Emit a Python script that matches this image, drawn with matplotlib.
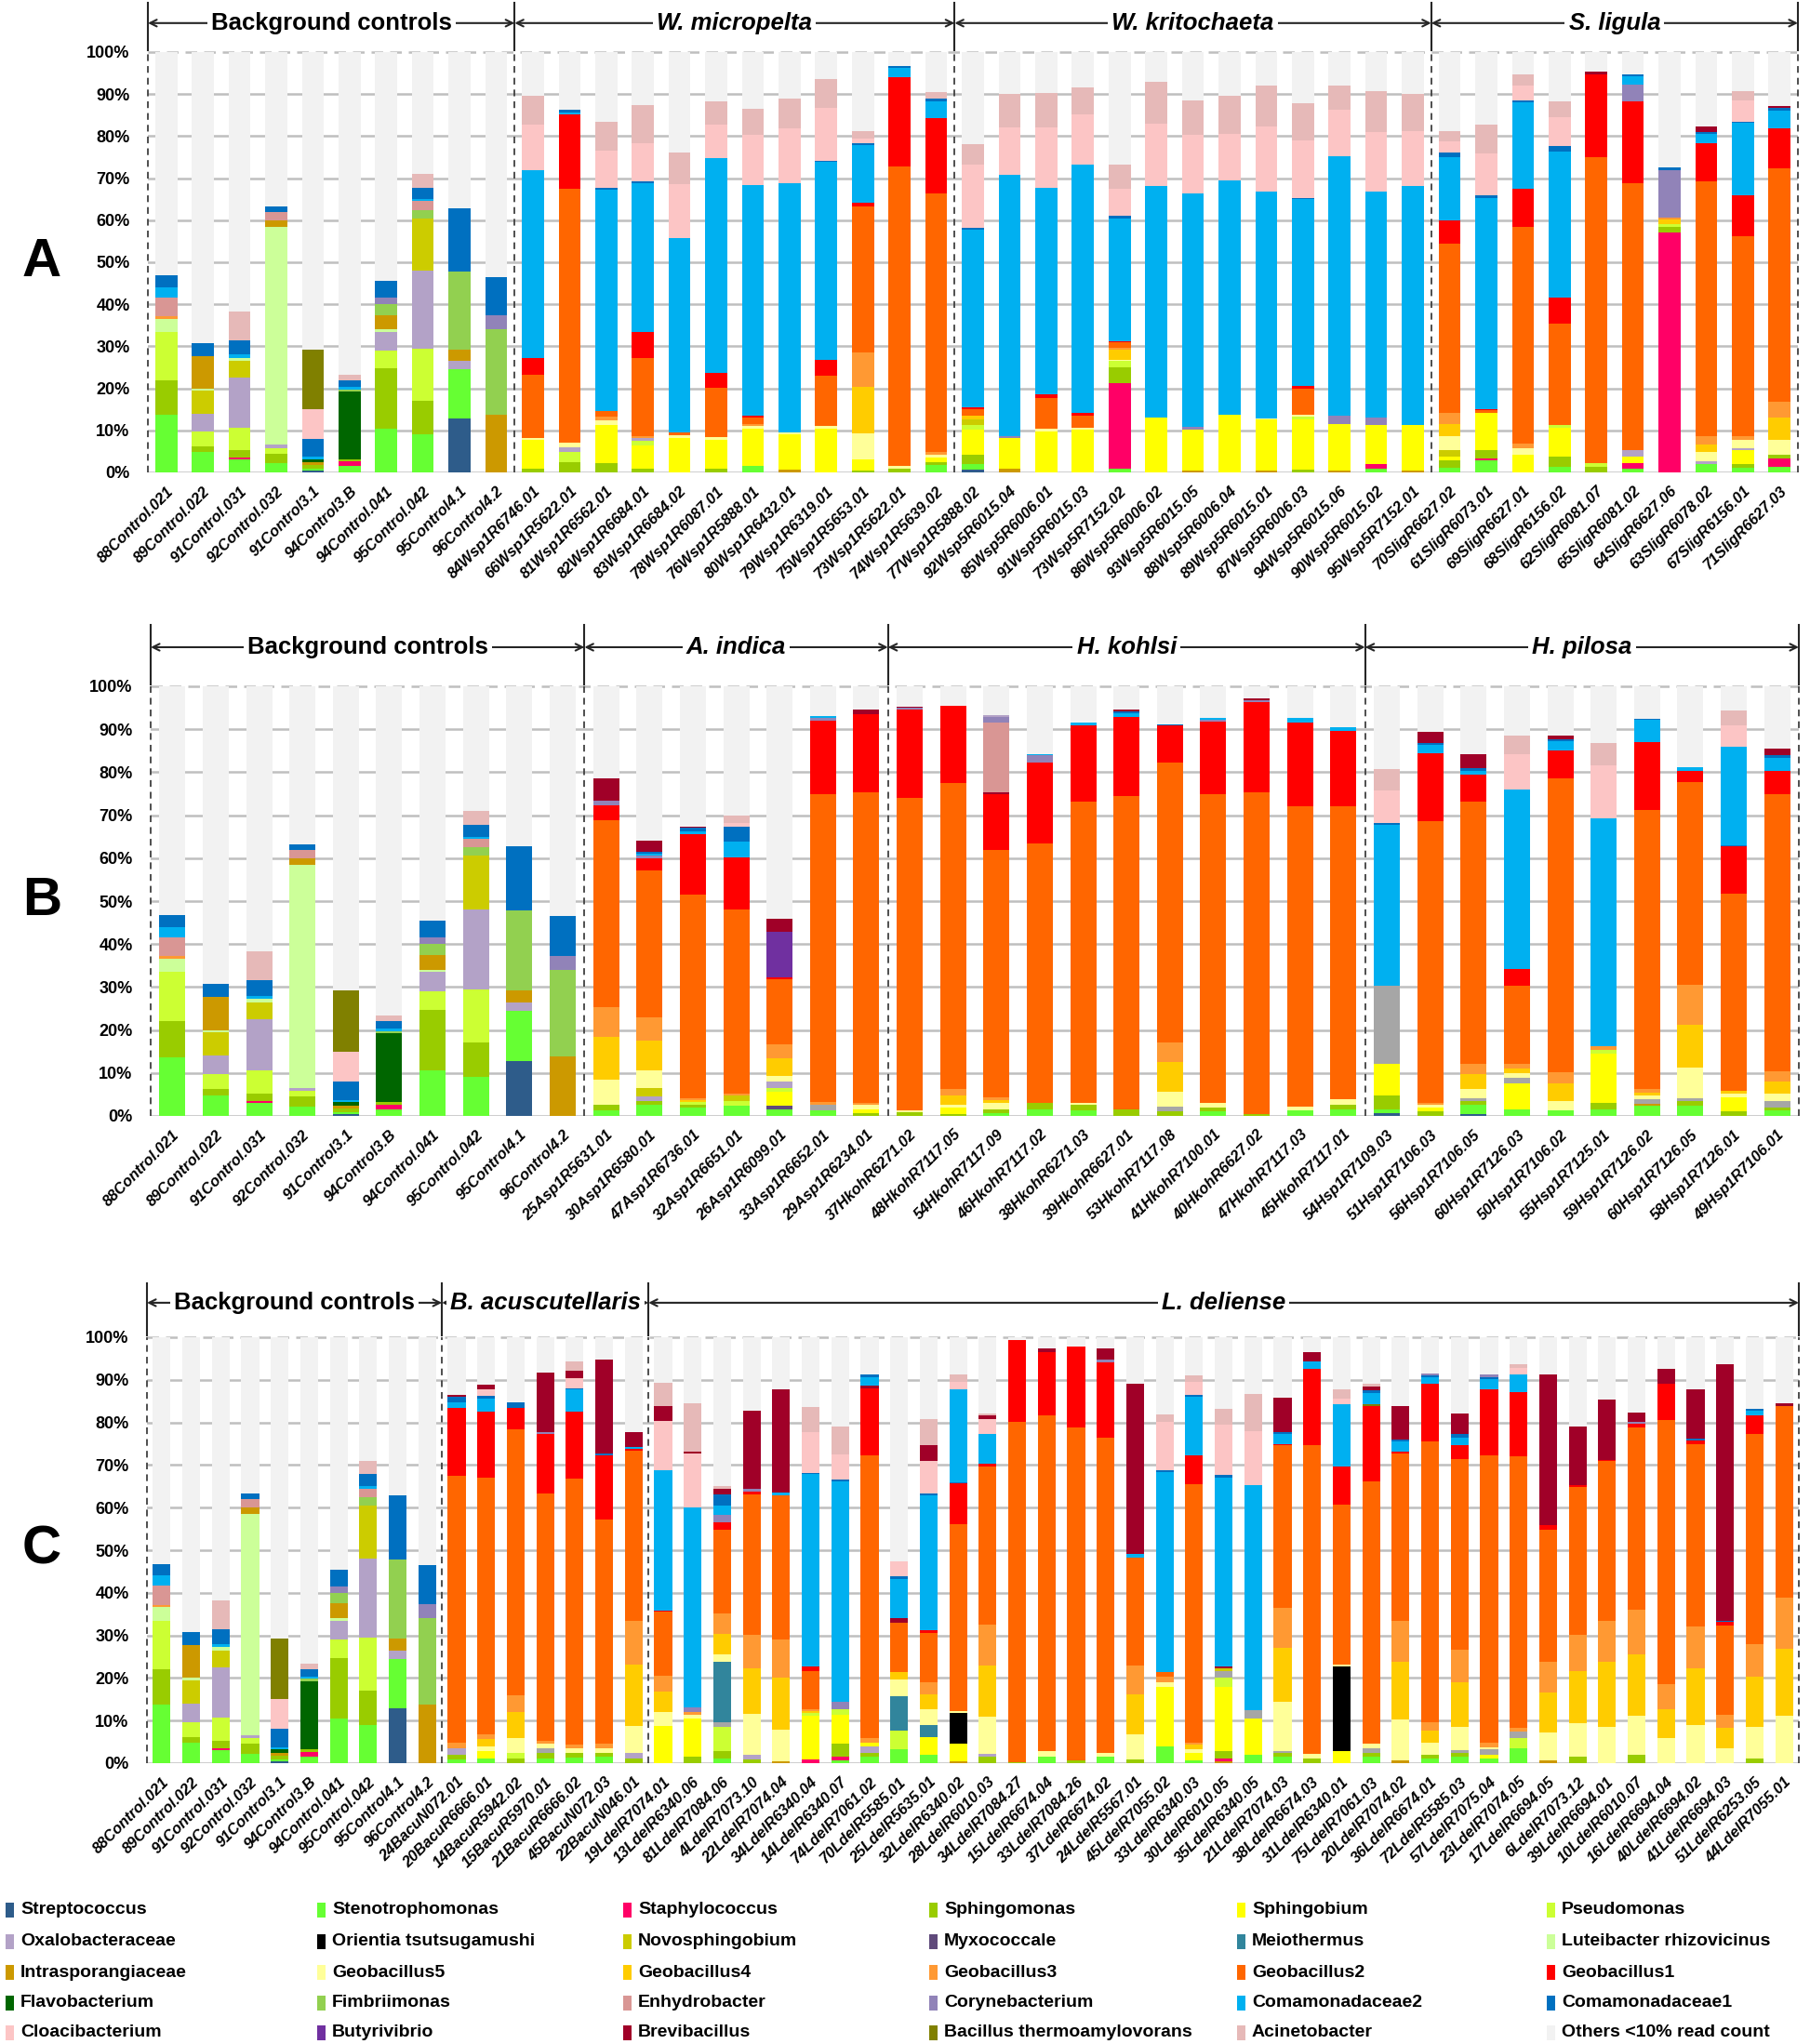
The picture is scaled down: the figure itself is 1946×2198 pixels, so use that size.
import matplotlib
matplotlib.use("Agg")
import matplotlib.pyplot as plt
from matplotlib.patches import Rectangle

plt.rcParams['font.family'] = ['Liberation Sans', 'DejaVu Sans']
plt.rcParams['font.weight'] = 'bold'

# legend, row by row (bottom-to-top stacking order of the workbook)
taxa_codes = ["STR", "STE", "STA", "SPM", "SPB", "PSE",
              "OXA", "ORI", "NOV", "MYX", "MEI", "LUT",
              "INT", "G5", "G4", "G3", "G2", "G1",
              "FLA", "FIM", "ENH", "COR", "C2", "C1",
              "CLO", "BUT", "BRE", "BAC", "ACI", "OTH"]
taxa_names = ["Streptococcus", "Stenotrophomonas", "Staphylococcus", "Sphingomonas", "Sphingobium", "Pseudomonas",
              "Oxalobacteraceae", "Orientia tsutsugamushi", "Novosphingobium", "Myxococcale", "Meiothermus", "Luteibacter rhizovicinus",
              "Intrasporangiaceae", "Geobacillus5", "Geobacillus4", "Geobacillus3", "Geobacillus2", "Geobacillus1",
              "Flavobacterium", "Fimbriimonas", "Enhydrobacter", "Corynebacterium", "Comamonadaceae2", "Comamonadaceae1",
              "Cloacibacterium", "Butyrivibrio", "Brevibacillus", "Bacillus thermoamylovorans", "Acinetobacter", "Others <10% read count"]
taxa_colours = ["#2E5C8A", "#66FF33", "#FF0066", "#99CC00", "#FFFF00", "#CCFF33",
                "#B3A2C7", "#000000", "#CCCC00", "#604A7B", "#31859C", "#CCFF99",
                "#CC9900", "#FFFF99", "#FFCC00", "#FF9933", "#FF6600", "#FF0000",
                "#006600", "#92D050", "#D99694", "#9183B8", "#00B0F0", "#0070C0",
                "#FCC5C5", "#7030A0", "#A00028", "#808000", "#E6B9B8", "#F2F2F2"]
# grey slivers that have no legend entry
extra_colours = {"GRY": "#A6A6A6"}

# each bar: taxon code followed by the cumulative top (%) of its segment
control_labels = ["88Control.021", "89Control.022", "91Control.031", "92Control.032", "91Control3.1",
                  "94Control3.B", "94Control.041", "95Control.042", "95Control4.1", "96Control4.2"]
control_bars = [
    "STE 13.7 SPM 22 PSE 33.5 LUT 36.6 G3 37.2 ENH 41.6 C2 44 C1 46.8",
    "STE 4.8 SPM 6.2 PSE 9.7 OXA 14 NOV 19.5 LUT 20 INT 27.7 C1 30.8",
    "STE 3 STA 3.5 SPM 5.3 PSE 10.7 OXA 22.5 NOV 26.5 LUT 27.3 C2 28 C1 31.5 ACI 38.3",
    "STE 2.2 SPM 4.5 PSE 5.8 OXA 6.6 LUT 58.5 INT 60 ENH 62 C1 63.3",
    "STR 0.5 STE 0.9 SPM 1.8 INT 2.4 FLA 3.2 C2 3.7 C1 8 CLO 15 BAC 29.3",
    "STE 1.5 STA 2.7 SPM 3.2 FLA 19.3 FIM 19.8 C2 20.3 C1 22 ACI 23.3",
    "STE 10.5 SPM 24.7 PSE 29 OXA 33.5 LUT 34 INT 37.5 FIM 40 COR 41.5 C1 45.5",
    "STE 9 SPM 17 PSE 29.5 OXA 48 NOV 60.5 FIM 62.5 ENH 64.5 C2 65 C1 67.8 ACI 71",
    "STR 12.8 STE 24.5 OXA 26.5 INT 29.3 FIM 47.8 C1 62.8",
    "INT 13.8 FIM 34 COR 37.3 C1 46.5",
]

micropelta_labels = ["84Wsp1R6746.01", "66Wsp1R5622.01", "81Wsp1R6562.01", "82Wsp1R6684.01", "83Wsp1R6684.02",
                     "78Wsp1R6087.01", "76Wsp1R5888.01", "80Wsp1R6432.01", "79Wsp1R6319.01", "75Wsp1R5653.01",
                     "73Wsp1R5622.01", "74Wsp1R5639.02"]
micropelta_bars = [
    "SPM 0.8 SPB 7.8 G5 8.1 G2 23.2 G1 27.3 C2 72 CLO 82.8 ACI 89.7",
    "SPM 2.5 PSE 4.8 OXA 6 G5 7 G2 67.5 G1 85.2 C2 85.7 C1 86.2",
    "SPM 2.3 SPB 11.3 G5 12.3 G3 13.3 G2 14.5 C2 67.3 C1 67.8 CLO 76.5 ACI 83.3",
    "SPM 0.8 SPB 6.5 PSE 7.6 OXA 8.2 G3 8.7 G2 27.3 G1 33.5 C2 68.7 C1 69.2 CLO 78.3 ACI 87.5",
    "SPB 8.2 G5 8.8 G2 9.6 C2 55.7 CLO 68.5 ACI 76",
    "SPM 0.8 SPB 7.7 G5 8.3 G2 20.2 G1 23.7 C2 74.7 CLO 82.8 ACI 88.3",
    "STE 1.5 SPB 10.3 G5 11 G3 11.5 G2 13 G1 13.5 C2 68.3 CLO 80.2 ACI 86.5",
    "INT 0.7 SPB 9 G5 9.6 C2 68.7 CLO 81.8 ACI 89",
    "SPB 10.5 G5 11 G2 23 G1 26.8 C2 73.8 C1 74.2 CLO 86.8 ACI 93.5",
    "SPM 0.5 SPB 3 G5 9.2 G4 20.3 G3 28.5 G2 63.3 G1 64.1 C2 77.8 C1 78.3 CLO 79.5 ACI 81.2",
    "SPM 0.8 G5 1.5 G2 72.8 G1 94.1 C2 96.3 C1 96.7",
    "STE 1.8 SPM 2.5 SPB 3.5 G5 4.3 G3 4.9 G2 66.3 G1 84.4 C2 88.3 C1 89 ACI 90.4",
]

kritochaeta_labels = ["77Wsp1R5888.02", "92Wsp5R6015.04", "85Wsp5R6006.01", "91Wsp5R6015.03", "73Wsp5R7152.02",
                      "86Wsp5R6006.02", "93Wsp5R6015.05", "88Wsp5R6006.04", "89Wsp5R6015.01", "87Wsp5R6006.03",
                      "94Wsp5R6015.06", "90Wsp5R6015.02", "95Wsp5R7152.01"]
kritochaeta_bars = [
    "STR 0.6 STE 2 SPM 4.2 SPB 10.2 PSE 11.2 NOV 12.7 G4 13.6 G2 15.1 G1 15.4 C2 57.8 C1 58.2 CLO 73.3 ACI 78",
    "INT 0.8 SPB 8.2 COR 8.7 C2 70.7 CLO 82 ACI 90",
    "SPB 9.7 G5 10.5 G2 17.8 G1 18.6 C2 67.7 CLO 82 ACI 90.2",
    "SPB 10.2 G5 10.6 G2 13.6 G1 14.1 C2 73.3 CLO 85.2 ACI 91.6",
    "STE 0.8 STA 21.3 SPM 25 PSE 26.5 G5 26.8 G4 29.2 G3 29.6 G2 30.9 G1 31.2 C2 60.5 C1 61 CLO 67.4 ACI 73.3",
    "SPB 13.1 C2 68.1 CLO 83 ACI 92.9",
    "INT 0.4 SPB 10.2 COR 10.8 C2 66.3 CLO 80.4 ACI 88.6",
    "SPB 13.8 C2 69.4 CLO 80.5 ACI 89.6",
    "INT 0.5 SPB 12.6 G5 12.8 C2 66.9 CLO 82.2 ACI 92.1",
    "SPM 0.6 SPB 12.6 PSE 13.3 G5 13.8 G2 20 G1 20.6 C2 65 C1 65.3 CLO 79 ACI 87.9",
    "INT 0.4 SPB 11.6 COR 13.6 C2 75.3 CLO 86.2 ACI 92.1",
    "STE 0.8 STA 2 SPB 11.2 COR 13.1 C2 66.9 CLO 80.9 ACI 90.6",
    "INT 0.4 SPB 11.2 C2 68.2 CLO 81.2 ACI 90",
]

ligula_labels = ["70SligR6627.02", "61SligR6073.01", "69SligR6627.01", "68SligR6156.02", "62SligR6081.07",
                 "65SligR6081.02", "64SligR6627.06", "63SligR6078.02", "67SligR6156.01", "71SligR6627.03"]
ligula_bars = [
    "STE 1 SPM 2.8 SPB 3.8 NOV 5.2 G5 8.7 G4 11.6 G3 14.1 G2 54.5 G1 60 C2 75 C1 76 CLO 78.8 ACI 81.3",
    "STE 2.8 STA 3.4 SPM 5.2 SPB 14.1 G2 14.8 G1 15.1 C2 65.2 C1 65.9 CLO 75.8 ACI 82.7",
    "SPB 4.2 G5 5.7 G3 6.9 G2 58.5 G1 67.4 C2 88 C1 88.5 CLO 92.1 ACI 94.8",
    "STE 1.3 SPM 3.8 SPB 10.7 PSE 11.2 G2 35.3 G1 41.7 C2 76.3 C1 77.6 CLO 84.5 ACI 88.2",
    "SPM 1.4 PSE 2.3 G2 74.9 G1 94.8 BRE 95.4",
    "STE 0.8 STA 2.3 SPB 3.8 OXA 5.2 G2 68.9 G1 88.3 COR 92.3 C2 94.3 C1 94.8",
    "STA 57.1 SPM 58.3 PSE 59.1 G4 60.2 G3 60.6 COR 71.9 C1 72.5",
    "STE 2 OXA 2.6 G5 4.8 G4 6.7 G3 8.7 G2 69.2 G1 78.3 C2 80.6 C1 81 BRE 82.2",
    "STE 1 SPM 2 SPB 5.2 OXA 5.8 G5 7.7 G3 8.7 G2 56.1 G1 66 C2 83.2 C1 83.5 CLO 88.6 ACI 90.8",
    "STE 1.3 STA 3.3 SPM 4.2 G5 7.7 G4 13.1 G3 16.8 G2 72.4 G1 81.9 C2 86 C1 86.7 BRE 87.2",
]

indica_labels = ["25Asp1R5631.01", "30Asp1R6580.01", "47Asp1R6736.01", "32Asp1R6651.01", "26Asp1R6099.01",
                 "33Asp1R6652.01", "29Asp1R6234.01"]
indica_bars = [
    "STE 1.2 SPM 2.6 G5 8.5 G4 18.5 G3 25.3 G2 68.8 G1 72.2 COR 73.3 BRE 78.6",
    "STE 2.6 SPM 3.5 OXA 4.6 NOV 6.6 G5 10.7 G4 17.6 G3 23 G2 57.2 G1 60 COR 60.6 C2 61 C1 61.5 BRE 64",
    "STE 2 SPM 2.6 PSE 3.3 G4 3.7 G3 4.1 G2 51.5 G1 65.6 C2 66.2 C1 67 BRE 67.3",
    "STE 2.3 PSE 3.5 NOV 4.8 G3 5.3 G2 48.1 G1 60.2 C2 63.8 C1 67.4 CLO 68.1 ACI 69.9",
    "STE 1.6 MYX 2.3 SPB 5.7 PSE 6.6 OXA 8 G5 9.4 G4 13.5 G3 16.7 G2 31.9 G1 32.2 BUT 42.9 BRE 45.8",
    "STE 1.4 GRY 2.6 G3 3.3 G2 74.9 G1 92 COR 92.6 C2 93",
    "SPM 0.7 SPB 1.6 G5 2.5 G3 3 G2 75.4 G1 93.6 BRE 94.5",
]

kohlsi_labels = ["37HkohR6271.02", "48HkohR7117.05", "54HkohR7117.09", "46HkohR7117.02", "38HkohR6271.03",
                 "39HkohR6627.01", "53HkohR7117.08", "41HkohR7100.01", "40HkohR6627.02", "47HkohR7117.03",
                 "45HkohR7117.01"]
kohlsi_bars = [
    "SPM 0.8 G5 1.2 G2 74 G1 94.5 COR 95 BRE 95.3",
    "SPM 0.5 SPB 1.9 G5 2.5 G4 4.8 G3 6.2 G2 77.5 G1 95.5",
    "STE 0.7 SPM 1.6 G5 3 G4 3.7 G3 4.4 G2 61.9 G1 74.8 BRE 75.4 ENH 91.6 COR 92.8 OXA 93.2",
    "STE 1.6 SPM 3 G2 63.5 G1 82.3 COR 83.9 C2 84.3",
    "STE 1.2 SPM 2.5 G5 3 G2 73.1 G1 90.9 C2 91.6",
    "SPM 1.6 G2 74.4 G1 92.8 C2 93.7 C1 94.1 BRE 94.5",
    "SPM 1 GRY 2.1 G5 5.7 G4 12.6 G3 17.1 G2 82.2 G1 90.9 C1 91.2",
    "STE 1 SPM 1.9 G5 3 G2 74.8 G1 91.8 COR 92.3 C2 92.7",
    "SPM 0.5 G2 75.4 G1 96.3 COR 96.7 BRE 97.1",
    "STE 1.2 G5 2.1 G2 72 G1 91.5 C2 92.7",
    "STE 1.6 SPM 2.6 G5 3.9 G2 72 G1 89.7 C2 90.4",
]

pilosa_labels = ["54Hsp1R7109.03", "51Hsp1R7106.03", "56Hsp1R7106.05", "60Hsp1R7126.03", "50Hsp1R7106.02",
                 "55Hsp1R7125.01", "59Hsp1R7126.02", "60Hsp1R7126.05", "58Hsp1R7126.01", "49Hsp1R7106.01"]
pilosa_bars = [
    "STR 0.7 STE 1.6 SPM 4.8 SPB 12.1 GRY 30.3 C2 67.7 C1 68.1 CLO 75.8 ACI 80.7",
    "SPM 1 SPB 1.9 G5 2.5 G3 3 G2 68.6 G1 84.5 C2 86.4 C1 86.8 BRE 89.4",
    "STR 0.5 STE 2.5 SPM 3.4 GRY 4.2 G5 6.2 G4 9.8 G3 12.1 G2 73.1 G1 79.5 C2 80.3 C1 80.9 BRE 84.1",
    "STE 1.6 SPB 7.6 GRY 8.9 G5 10 G4 11.1 G3 12.1 G2 30.3 G1 34.1 C2 76 CLO 84.3 ACI 88.6",
    "STE 1.4 G5 3.5 G4 7.6 G3 10.1 G2 78.6 G1 85 C2 87.2 C1 87.7 BRE 88.6",
    "STE 1.6 SPM 3 SPB 14.4 PSE 15.3 G3 16.2 C2 69.3 CLO 81.5 ACI 86.7",
    "STE 2.3 INT 2.8 GRY 3.9 G5 4.8 G4 5.5 G3 6.2 G2 71.3 G1 87 C2 92.1 C1 92.5",
    "STE 2.3 SPM 3.5 GRY 4.1 G5 11.2 G4 21.2 G3 30.5 G2 77.7 G1 80.4 C2 81.1",
    "SPM 1 SPB 4.4 G5 5.3 G4 5.9 G2 51.7 G1 62.7 C1 63 C2 85.9 CLO 90.9 ACI 94.3",
    "STE 1.2 SPM 1.9 GRY 3.5 G5 5.3 G4 8 G3 10.3 G2 75 G1 80.4 C2 83.3 C1 83.9 BRE 85.4",
]

acuscutellaris_labels = ["24BacuN072.01", "20BacuR6666.01", "14BacuR5942.02", "15BacuR5970.01",
                         "21BacuR6666.02", "45BacuN072.03", "22BacuN046.01"]
acuscutellaris_bars = [
    "STE 0.8 SPM 1.9 OXA 3.6 G3 4.9 G2 67.4 G1 83.4 C2 84.7 C1 86 BRE 86.4",
    "STE 1 SPB 2.8 G5 4 G4 5.6 G3 6.8 G2 67 G1 82.5 C2 85.5 C1 86.2 CLO 87.7 BRE 88.8",
    "SPM 1 PSE 2.3 G5 6 G4 12 G3 16 G2 78.4 G1 83.4 C1 84.7",
    "STE 1.2 SPM 2.3 GRY 3.4 G5 4.5 G3 5.3 G2 63.3 G1 77.2 COR 77.8 BRE 91.6",
    "STE 1.3 SPM 2.4 G5 3.4 G3 4.3 G2 66.8 G1 82.5 C2 87.7 C1 88.1 CLO 90.3 BRE 92.2 ACI 94.3",
    "STE 1.5 SPM 2.5 G5 3.4 G3 4.5 G2 57.3 G1 72.2 C1 72.8 BRE 94.7",
    "SPM 1.2 OXA 2.3 G5 8.8 G4 23.2 G3 33.4 G2 73.4 G1 73.8 C2 74.3 BRE 77.8",
]

deliense_labels = ["19LdelR7074.01", "13LdelR6340.06", "81LdelR7084.06", "4LdelR7073.10", "22LdelR7074.04",
                   "34LdelR6340.04", "14LdelR6340.07", "74LdelR7061.02", "70LdelR5585.01", "25LdelR5635.01",
                   "32LdelR6340.02", "28LdelR6010.03", "34LdelR7084.27", "15LdelR6674.04", "33LdelR7084.26",
                   "37LdelR6674.02", "24LdelR5567.01", "45LdelR7055.02", "33LdelR6340.03", "30LdelR6010.05",
                   "35LdelR6340.05", "21LdelR7074.03", "38LdelR6674.03", "31LdelR6340.01", "75LdelR7061.03",
                   "20LdelR7074.02", "36LdelR6674.01", "72LdelR5585.03", "57LdelR7075.04", "23LdelR7074.05",
                   "17LdelR6694.05", "6LdelR7073.12", "39LdelR6694.01", "10LdelR6010.07", "16LdelR6694.04",
                   "40LdelR6694.02", "41LdelR6694.03", "51LdelR6253.05", "44LdelR7055.01"]
deliense_bars = [
    "SPB 8.8 G5 12 G4 16.8 G3 20.6 G2 35.5 G1 35.8 C2 68.7 CLO 80.3 BRE 83.8 ACI 89.4",
    "SPM 1.5 SPB 10.5 G5 11.3 G3 12 COR 13.1 C2 60 CLO 72.6 BRE 73.1 ACI 84.4",
    "STE 1 SPM 2.8 PSE 8.5 GRY 9.7 MEI 23.9 G5 25.6 G4 30.3 G3 35.1 G2 54.9 G1 56.6 COR 58.4 C2 60.5 C1 63.1 BRE 64.4 ACI 65",
    "SPM 0.8 OXA 2 G5 11.6 G4 22.2 G3 30.1 G2 63.1 G1 63.8 COR 64.5 BRE 82.8",
    "INT 0.5 G5 7.8 G4 20 G3 29 G2 62.8 C2 63.6 BRE 87.7",
    "STA 0.8 SPB 11.1 PSE 11.8 G4 12.2 G3 12.7 G2 21.7 G1 22.6 C2 67.8 C1 68.2 CLO 77.8 ACI 83.6",
    "STE 0.6 STA 1.5 SPM 4.5 SPB 11.4 PSE 12.7 COR 14.4 C2 66.1 C1 66.6 CLO 72.4 ACI 79.1",
    "STE 1.6 SPM 2.3 OXA 4 SPB 4.9 G3 5.8 G2 72.2 G1 88.1 BRE 88.6 C2 90.7 C1 91.3",
    "STE 3.2 PSE 7.7 MEI 15.7 G5 19.6 G4 21.3 G2 32.9 BRE 34 C2 43.3 C1 43.9 CLO 47.3",
    "STE 1.9 SPB 6.2 MEI 9 G5 12.7 G4 16.1 G3 18.9 G2 30.6 G1 31.2 C2 62.8 C1 63.3 CLO 70.9 BRE 74.6 ACI 80.8",
    "INT 0.5 SPB 4.5 ORI 11.8 G5 12.2 G2 56.2 G1 65.7 C1 66 C2 87.7 CLO 89.6 ACI 91.3",
    "SPM 1.6 OXA 2.2 G5 11 G4 23 G3 32.5 G2 69.7 G1 70.4 C2 77.2 CLO 80.8 BRE 81.7 ACI 82.2",
    "SPM 0.3 G2 80.1 G1 99.3",
    "STE 1.5 G5 2.8 G2 81.6 G1 96.5 BRE 97.3",
    "SPM 0.6 G2 78.9 G1 97.8",
    "STE 1.5 G5 2.3 G2 76.5 G1 94.1 COR 94.8 BRE 97.4",
    "SPM 0.8 G5 6.8 G4 16.1 G3 23 G2 48.2 C2 49.1 BRE 89",
    "STE 3.9 SPB 17.8 G5 19.1 G3 20.4 G2 21.5 C2 68.3 C1 68.7 CLO 80.1 ACI 81.9",
    "STE 0.6 SPB 2.4 G5 3.2 G4 4.3 G3 4.9 G2 65.4 G1 72.2 C2 86 C1 86.4 CLO 89.6 ACI 91.1",
    "INT 0.5 STA 1 SPM 2.8 SPB 17.8 PSE 20 GRY 21.7 NOV 22.3 BRE 22.8 C2 67 C1 67.6 CLO 79.5 ACI 83.1",
    "STE 1.9 SPB 10.5 GRY 12.5 C2 65.3 CLO 78 ACI 86.6",
    "STE 1.6 SPM 2.3 GRY 2.8 G5 14.4 G4 27.1 G3 36.4 G2 74.6 G1 75 C2 77.3 C1 77.7 BRE 85.8",
    "SPM 1 G5 2.2 G2 74.6 G1 92.6 C2 94.4 BRE 96.6",
    "SPB 2.8 ORI 22.6 G5 23.2 G2 60.8 G1 69.7 C2 84.2 CLO 85.5 ACI 87.7",
    "STE 1.5 SPM 2.3 GRY 3.4 G5 4.5 G2 66.1 G1 83.8 BAC 84.2 C2 87 C1 87.5 BRE 88.5 ACI 89.1",
    "INT 0.6 G5 10.3 G4 23.8 G3 33.5 G2 72.8 G1 73.2 C2 75.5 C1 75.9 BRE 83.8",
    "STE 1 SPM 1.9 G5 4.9 G4 7.7 G3 9.7 G2 75.6 G1 89 C2 90.7 C1 91.1 COR 91.4",
    "STE 1.6 SPM 2.5 GRY 3 G5 8.5 G4 19 G3 26.6 G2 71.3 G1 74.7 C2 76.5 C1 77.3 BRE 82.1",
    "STE 1 SPB 1.9 GRY 3.2 G5 3.8 G3 4.9 G2 72.2 G1 87.7 C2 90.1 C1 90.7 COR 91.2",
    "STE 3.6 PSE 5.8 GRY 7.5 G3 8.4 G2 72 G1 87.2 C2 91.3 CLO 92.8 ACI 93.6",
    "INT 0.6 G5 7.2 G4 16.6 G3 23.7 G2 54.7 G1 56 BRE 91.3",
    "SPM 1.6 G5 9.4 G4 21.7 G3 30.1 G2 64.8 G1 65.3 BRE 79.1",
    "G5 8.5 G4 23.9 G3 33.4 G2 70.9 G1 71.2 BRE 85.3",
    "SPM 1.9 G5 11.1 G4 25.5 G3 36.1 G2 78.9 G1 79.7 COR 80.2 BRE 82.3",
    "G5 5.8 G4 12.7 G3 18.5 G2 80.6 G1 89 BRE 92.5",
    "G5 9 G4 22.2 G3 32.2 G2 74.9 G1 75.8 C1 76.3 BRE 87.7",
    "G5 3.4 G4 8.4 G3 11.4 G2 32.3 G1 33.2 C1 33.5 BRE 93.7",
    "SPM 1 G5 8.5 G4 20.3 G3 28 G2 77.2 G1 81.6 C2 82.7 C1 83.1",
    "G5 11.1 G4 26.9 G3 38.9 G2 83.8 BRE 84.4",
]

colour_of = dict(zip(taxa_codes, taxa_colours))
colour_of.update(extra_colours)

W, H = 1946, 2198
fig = plt.figure(figsize=(W / 100, H / 100), dpi=100)


def parse(bar):
    t = bar.split()
    return list(zip(t[::2], [float(v) for v in t[1::2]]))


def draw_panel(box, letter, groups, header_y, line_top):
    left, top, right, bottom = box
    ax = fig.add_axes([left / W, 1 - bottom / H, (right - left) / W, (bottom - top) / H])
    labels, bars = [], []
    for name, lab, data in groups:
        labels += lab
        bars += data
    n = len(bars)

    xs, bots, hts, cols = [], [], [], []
    for i, bar in enumerate(bars):
        prev = 0.0
        for code, tp in parse(bar) + [("OTH", 100.0)]:
            xs.append(i)
            bots.append(prev)
            hts.append(tp - prev)
            cols.append(colour_of[code])
            prev = tp
    ax.bar(xs, hts, bottom=bots, width=0.6, color=cols, linewidth=0, zorder=2)

    for v in range(0, 100, 10):
        ax.axhline(v, color="#BFBFBF", lw=1.8, zorder=1)
    ax.axhline(100, color="#BFBFBF", lw=1.8, ls=(0, (5, 3)), zorder=1, clip_on=False)

    ax.set_xlim(-0.5, n - 0.5)
    ax.set_ylim(0, 100)
    for s in ax.spines.values():
        s.set_visible(False)
    ax.set_yticks(range(0, 101, 10))
    ax.set_yticklabels([f"{v}%" for v in range(0, 101, 10)], fontsize=13, fontweight="bold")
    ax.set_xticks(range(n))
    ax.set_xticklabels(labels, rotation=45, ha="right", rotation_mode="anchor",
                       fontsize=11.8, fontstyle="italic", fontweight="bold")
    ax.tick_params(axis="both", length=0)
    ax.tick_params(axis="y", pad=14)
    ax.tick_params(axis="x", pad=9)

    trans = ax.get_xaxis_transform()
    start = 0
    bounds = [-0.5]
    for name, lab, data in groups:
        end = start + len(data)
        bounds.append(end - 0.5)
        x0, x1 = start - 0.5, end - 0.5
        ax.annotate("", xy=(x0, header_y), xytext=(x1, header_y), xycoords=trans, textcoords=trans,
                    arrowprops=dict(arrowstyle="<->", lw=1.5, color="#262626", shrinkA=0, shrinkB=0,
                                    mutation_scale=13), annotation_clip=False)
        italic = "italic" if name != "Background controls" else "normal"
        ax.text((x0 + x1) / 2, header_y, name, transform=trans, ha="center", va="center",
                fontsize=18.5, fontweight="bold", fontstyle=italic, zorder=5,
                bbox=dict(fc="white", ec="none", pad=3))
        start = end
    for b in bounds:
        ax.plot([b, b], [0, 1], transform=trans, color="#404040", lw=1.3, ls=(0, (4, 3)),
                clip_on=False, zorder=3)
        ax.plot([b, b], [1.005, line_top], transform=trans, color="#262626", lw=1.5,
                clip_on=False, zorder=3)

    fig.text(45 / W, 1 - (top + bottom) / 2 / H, letter, fontsize=42, fontweight="bold",
             ha="center", va="center")
    return ax


controls = ("Background controls", control_labels, control_bars)
draw_panel((159, 56, 1933, 508), "A",
           [controls,
            ("W. micropelta", micropelta_labels, micropelta_bars),
            ("W. kritochaeta", kritochaeta_labels, kritochaeta_bars),
            ("S. ligula", ligula_labels, ligula_bars)], 1.069, 1.118)
draw_panel((162, 738, 1934, 1200), "B",
           [controls,
            ("A. indica", indica_labels, indica_bars),
            ("H. kohlsi", kohlsi_labels, kohlsi_bars),
            ("H. pilosa", pilosa_labels, pilosa_bars)], 1.091, 1.143)
draw_panel((158, 1438, 1934, 1896), "C",
           [controls,
            ("B. acuscutellaris", acuscutellaris_labels, acuscutellaris_bars),
            ("L. deliense", deliense_labels, deliense_bars)], 1.081, 1.127)

# legend, six columns filled row by row
col_x = [6, 341, 670, 999, 1330, 1663]
row_y = [2054, 2088, 2121, 2154, 2186]
for k, (name, colour) in enumerate(zip(taxa_names, taxa_colours)):
    cx, cy = col_x[k % 6], row_y[k // 6]
    fig.patches.append(Rectangle((cx / W, 1 - (cy + 8) / H), 9 / W, 16 / H, transform=fig.transFigure,
                                 facecolor=colour, edgecolor="none"))
    fig.text((cx + 16) / W, 1 - cy / H, name, fontsize=14, fontweight="bold", ha="left", va="center")

fig.savefig("out.png", dpi=100, facecolor="white")
